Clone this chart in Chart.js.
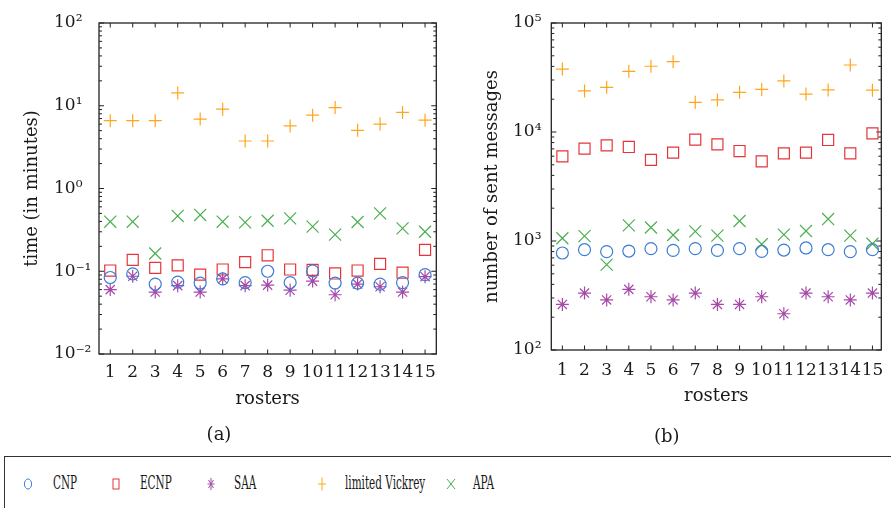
<!DOCTYPE html>
<html>
<head>
<meta charset="utf-8">
<script src="https://cdn.jsdelivr.net/npm/chart.js@4.4.0/dist/chart.umd.min.js"></script>
<style>
  body { margin: 0; background: #fff; }
  #wrap { position: relative; width: 891px; height: 508px; overflow: hidden; background: #fff; }
  #ca { position: absolute; left: 0; top: 0; }
  #cb { position: absolute; left: 446px; top: 0; }
  #legend { position: absolute; left: 4px; top: 456px; width: 920px; height: 80px; border: 1.3px solid #333; box-sizing: border-box; }
  .mk { position: absolute; top: 19px; }
  .lt { position: absolute; top: 15px; font-family: "DejaVu Serif", serif; font-size: 18px; line-height: 22px; color: #1a1a1a; transform: scaleX(0.58); transform-origin: 0 50%; white-space: nowrap; }
</style>
</head>
<body>
<div id="wrap">
  <canvas id="ca" width="446" height="448"></canvas>
  <canvas id="cb" width="445" height="448"></canvas>
  <div id="legend"></div>
</div>
<script>
// ---------------- data ----------------
const rosters = [1, 2, 3, 4, 5, 6, 7, 8, 9, 10, 11, 12, 13, 14, 15];
const seriesNames = ['CNP', 'ECNP', 'SAA', 'limited Vickrey', 'APA'];

// (a) time in minutes
const timeCNP  = [0.084, 0.093, 0.070, 0.074, 0.072, 0.081, 0.073, 0.100, 0.073, 0.101, 0.072, 0.072, 0.070, 0.073, 0.091];
const timeECNP = [0.102, 0.137, 0.110, 0.118, 0.091, 0.105, 0.129, 0.156, 0.105, 0.104, 0.094, 0.102, 0.123, 0.096, 0.181];
const timeSAA  = [0.060, 0.087, 0.056, 0.067, 0.056, 0.081, 0.067, 0.068, 0.059, 0.076, 0.052, 0.070, 0.065, 0.056, 0.086];
const timeLV   = [6.6, 6.6, 6.6, 14.3, 6.9, 9.1, 3.75, 3.75, 5.7, 7.7, 9.5, 5.05, 6.0, 8.3, 6.7];
const timeAPA  = [0.397, 0.397, 0.164, 0.466, 0.479, 0.397, 0.390, 0.408, 0.436, 0.346, 0.277, 0.394, 0.500, 0.330, 0.300];

// (b) number of sent messages
const msgCNP  = [776, 832, 798, 809, 851, 820, 851, 820, 851, 803, 826, 863, 832, 798, 832];
const msgECNP = [5980, 7030, 7550, 7290, 5540, 6460, 8500, 7710, 6690, 5380, 6370, 6460, 8450, 6370, 9730];
const msgSAA  = [262, 333, 288, 360, 308, 288, 333, 262, 262, 308, 215, 333, 308, 288, 333];
const msgLV   = [37800, 23800, 25700, 36000, 40100, 44200, 18700, 19700, 23100, 24600, 29400, 22300, 24300, 41200, 24200];
const msgAPA  = [1060, 1110, 607, 1390, 1330, 1135, 1227, 1120, 1525, 933, 1143, 1236, 1590, 1120, 944];

// tick values / labels
const yTicksA = [0.01, 0.1, 1, 10, 100];
const yTickLabelsA = ['10⁻²', '10⁻¹', '10⁰', '10¹', '10²'];
const yTicksB = [100, 1000, 10000, 100000];
const yTickLabelsB = ['10²', '10³', '10⁴', '10⁵'];

// ---------------- styles ----------------
const colors = ['#3d7dd6', '#e5353b', '#a54aa8', '#ffa51c', '#4caf50'];
const pStyles = ['circle', 'rect', 'star', 'cross', 'crossRot'];
const pRadius = [6, 7.8, 6.5, 6.5, 8.5];
const FONT = '"DejaVu Serif", serif';
const INK = '#1a1a1a';

const framePlugin = {
  id: 'frame',
  beforeDatasetsDraw(chart) {
    const ctx = chart.ctx, a = chart.chartArea;
    const xs = chart.scales.x, ys = chart.scales.y;
    ctx.save();
    ctx.strokeStyle = '#222';
    ctx.lineWidth = 1.3;
    ctx.strokeRect(a.left, a.top, a.right - a.left, a.bottom - a.top);
    ctx.lineWidth = 1;
    ctx.beginPath();
    xs.ticks.forEach(t => {
      const px = xs.getPixelForValue(t.value);
      ctx.moveTo(px, a.bottom); ctx.lineTo(px, a.bottom - 4.5);
      ctx.moveTo(px, a.top); ctx.lineTo(px, a.top + 4.5);
    });
    const lo = Math.round(Math.log10(ys.min)), hi = Math.round(Math.log10(ys.max));
    for (let e = lo; e <= hi; e++) {
      for (let k = 1; k <= 9; k++) {
        const v = k * Math.pow(10, e);
        if (v < ys.min * 0.999 || v > ys.max * 1.001) continue;
        const py = ys.getPixelForValue(v);
        const len = k === 1 ? 5 : 3;
        ctx.moveTo(a.left, py); ctx.lineTo(a.left + len, py);
        ctx.moveTo(a.right, py); ctx.lineTo(a.right - len, py);
      }
    }
    ctx.stroke();
    ctx.restore();
  }
};

function makeDatasets(arrays) {
  return arrays.map((arr, i) => ({
    label: seriesNames[i],
    data: arr.map((v, j) => ({ x: rosters[j], y: v })),
    pointStyle: pStyles[i],
    pointRadius: pRadius[i],
    pointHoverRadius: pRadius[i],
    borderColor: colors[i],
    backgroundColor: 'rgba(0,0,0,0)',
    pointBorderWidth: 1.2,
    borderWidth: 1.2,
    showLine: false
  }));
}

function makeChart(id, cfg) {
  return new Chart(document.getElementById(id), {
    type: 'scatter',
    data: { datasets: makeDatasets(cfg.arrays) },
    options: {
      responsive: false,
      animation: false,
      events: [],
      layout: { padding: { left: 0, right: cfg.padRight, top: 23, bottom: 0 } },
      plugins: {
        legend: { display: false },
        tooltip: { enabled: false },
        title: {
          display: true, position: 'bottom', text: cfg.caption, color: INK,
          font: { family: FONT, size: 18, weight: 'normal' },
          padding: { top: cfg.capPadTop, bottom: cfg.capPadBottom }
        }
      },
      scales: {
        x: {
          type: 'linear', min: 0.5, max: cfg.xMax,
          grid: { display: false, drawTicks: false },
          border: { display: false },
          afterBuildTicks: s => { s.ticks = rosters.map(v => ({ value: v })); },
          afterFit: s => { s.height = cfg.xHeight; s.paddingLeft = 0; s.paddingRight = 0; },
          ticks: { color: INK, font: { family: FONT, size: 17 }, padding: cfg.xTickPad, maxRotation: 0, autoSkip: false,
                   callback: v => String(v) },
          title: { display: true, text: 'rosters', color: INK, font: { family: FONT, size: 18 },
                   padding: { top: 0, bottom: cfg.xTitlePadBottom } }
        },
        y: {
          type: 'logarithmic', position: 'left', weight: 0,
          min: cfg.yTicks[0], max: cfg.yTicks[cfg.yTicks.length - 1],
          grid: { display: false, drawTicks: false },
          border: { display: false },
          afterBuildTicks: s => { s.ticks = cfg.yTicks.map(v => ({ value: v })); },
          afterFit: s => { s.width = cfg.yWidth - cfg.yTitleWidth; s.paddingTop = 0; s.paddingBottom = 0; },
          ticks: { color: INK, font: { family: FONT, size: 17 }, padding: 2, crossAlign: 'far', autoSkip: false,
                   callback: (v, i) => cfg.yLabels[i] },
          title: { display: false }
        },
        yTitle: {
          type: 'logarithmic', position: 'left', weight: 5,
          min: cfg.yTicks[0], max: cfg.yTicks[cfg.yTicks.length - 1],
          grid: { display: false, drawTicks: false },
          border: { display: false },
          ticks: { display: false },
          afterFit: s => { s.width = cfg.yTitleWidth; s.paddingTop = 0; s.paddingBottom = 0; },
          title: { display: true, text: cfg.yTitle, color: INK, font: { family: FONT, size: 18 },
                   padding: { top: cfg.yTitlePadTop, bottom: 0 } }
        }
      }
    },
    plugins: [framePlugin]
  });
}

makeChart('ca', {
  arrays: [timeCNP, timeECNP, timeSAA, timeLV, timeAPA],
  yTicks: yTicksA, yLabels: yTickLabelsA, yTitle: 'time (in minutes)', caption: '(a)',
  padRight: 8, xMax: 15.5, xHeight: 66, xTickPad: 8.8, xTitlePadBottom: 10.2,
  capPadTop: 4.2, capPadBottom: 2.2, yWidth: 99, yTitleWidth: 54, yTitlePadTop: 22
});

makeChart('cb', {
  arrays: [msgCNP, msgECNP, msgSAA, msgLV, msgAPA],
  yTicks: yTicksB, yLabels: yTickLabelsB, yTitle: 'number of sent messages', caption: '(b)',
  padRight: 3.3, xMax: 15.4, xHeight: 66, xTickPad: 10.8, xTitlePadBottom: 9.2,
  capPadTop: 10.2, capPadBottom: 0.2, yWidth: 105.3, yTitleWidth: 67, yTitlePadTop: 36
});

// ---------------- legend ----------------
const legendMarkerX = [28, 116, 211, 322, 451];
const legendTextX = [53, 140, 234, 345, 473];
function markerSvg(i) {
  const c = colors[i];
  let shape = '';
  if (i === 0) shape = `<ellipse cx="5" cy="8" rx="3.6" ry="5" fill="none" stroke="${c}" stroke-width="1"/>`;
  if (i === 1) shape = `<rect x="2" y="3" width="6" height="10" fill="none" stroke="${c}" stroke-width="1"/>`;
  if (i === 2) shape = `<path d="M5 2 V14 M1.5 8 H8.5 M2.5 4 L7.5 12 M7.5 4 L2.5 12" fill="none" stroke="${c}" stroke-width="1"/>`;
  if (i === 3) shape = `<path d="M5 1.5 V14.5 M1 8 H9" fill="none" stroke="${c}" stroke-width="1"/>`;
  if (i === 4) shape = `<path d="M1 3 L9 13 M9 3 L1 13" fill="none" stroke="${c}" stroke-width="1"/>`;
  return `<svg width="10" height="16" viewBox="0 0 10 16">${shape}</svg>`;
}
const lg = document.getElementById('legend');
seriesNames.forEach((name, i) => {
  const m = document.createElement('div');
  m.className = 'mk';
  m.style.left = (legendMarkerX[i] - 4 - 5 - 1.3) + 'px';
  m.innerHTML = markerSvg(i);
  lg.appendChild(m);
  const t = document.createElement('div');
  t.className = 'lt';
  t.style.left = (legendTextX[i] - 4 - 1.3) + 'px';
  t.textContent = name;
  lg.appendChild(t);
});
</script>
</body>
</html>
